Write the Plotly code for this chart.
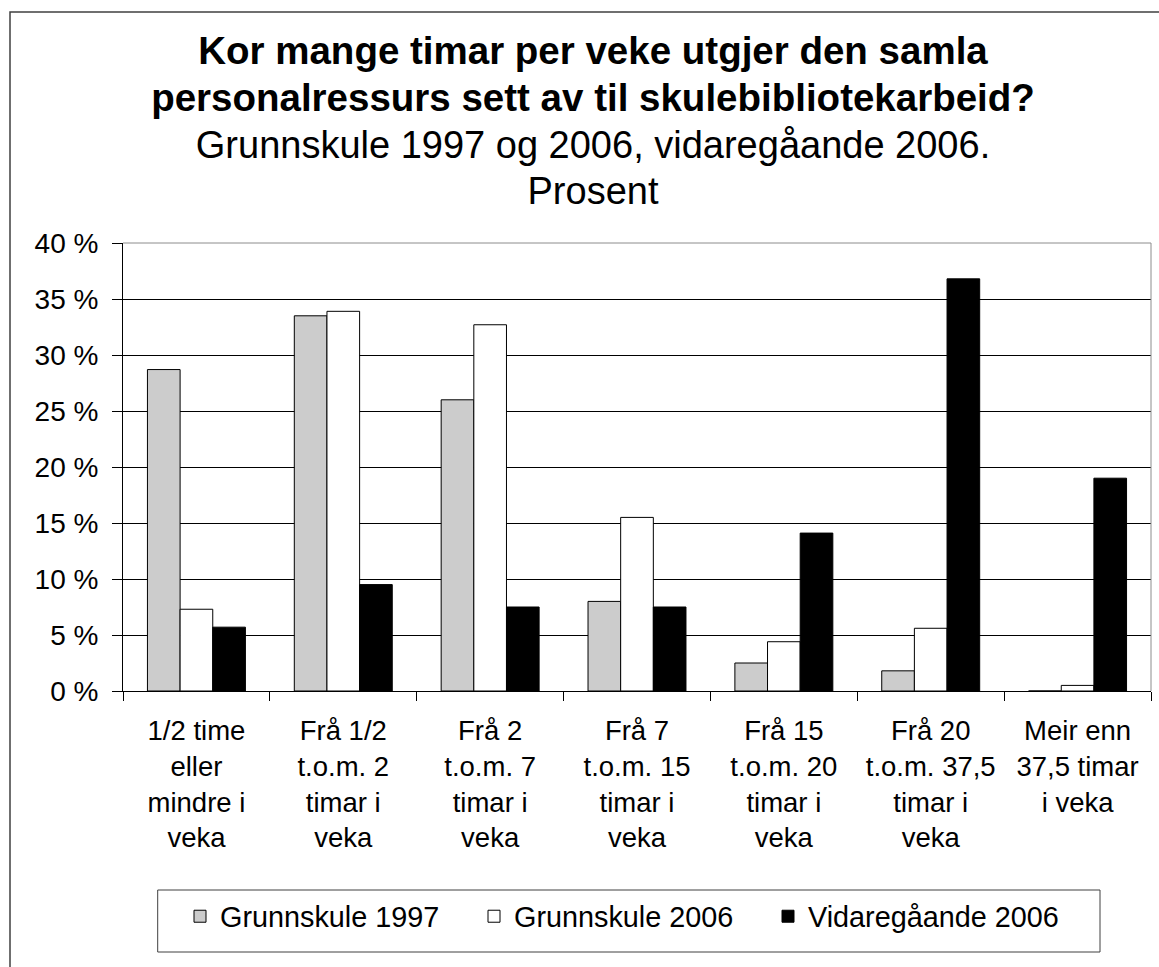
import plotly.graph_objects as go

categories = [
    "1/2 time<br>eller<br>mindre i<br>veka",
    "Frå 1/2<br>t.o.m. 2<br>timar i<br>veka",
    "Frå 2<br>t.o.m. 7<br>timar i<br>veka",
    "Frå 7<br>t.o.m. 15<br>timar i<br>veka",
    "Frå 15<br>t.o.m. 20<br>timar i<br>veka",
    "Frå 20<br>t.o.m. 37,5<br>timar i<br>veka",
    "Meir enn<br>37,5 timar<br>i veka",
]
grunnskule_1997 = [28.7, 33.5, 26.0, 8.0, 2.5, 1.8, 0.0]
grunnskule_2006 = [7.3, 33.9, 32.7, 15.5, 4.4, 5.6, 0.5]
vidaregaande_2006 = [5.7, 9.5, 7.5, 7.5, 14.1, 36.8, 19.0]
series_names = ["Grunnskule 1997", "Grunnskule 2006", "Vidaregåande 2006"]
series_colors = ["#cccccc", "#ffffff", "#000000"]
y_ticks = [0, 5, 10, 15, 20, 25, 30, 35, 40]
y_ticktext = [f"{v} %" for v in y_ticks]

title_text = (
    "<span style='font-size:38.5px'><b>Kor mange timar per veke utgjer den samla</b></span><br>"
    "<span style='font-size:38.5px'><b>personalressurs sett av til skulebibliotekarbeid?</b></span><br>"
    "<span style='font-size:38px'>Grunnskule 1997 og 2006, vidaregåande 2006.</span><br>"
    "<span style='font-size:38px'>Prosent</span>"
)

FONT = "Liberation Sans, Arial, sans-serif"
W, H = 1159, 967
ML, MR, MT, MB = 123, 8, 243, 276
PW = W - ML - MR
PH = H - MT - MB


def px_x(px):
    return (px - ML) / PW


def px_y(py):
    return (H - MB - py) / PH


fig = go.Figure()
for name, vals, col in zip(series_names, [grunnskule_1997, grunnskule_2006, vidaregaande_2006], series_colors):
    fig.add_trace(go.Bar(
        x=categories, y=vals, name=name,
        marker=dict(color=col, line=dict(color="#000000", width=1)),
    ))

fig.update_layout(
    width=W, height=H,
    margin=dict(l=ML, r=MR, t=MT, b=MB, pad=0),
    paper_bgcolor="white", plot_bgcolor="white",
    font=dict(family=FONT, color="black", size=28),
    barmode="group", bargap=0.333, bargroupgap=0,
    title=dict(
        text=title_text,
        font=dict(family=FONT, size=36, color="black"),
        x=593 / W, xanchor="center", xref="container",
        y=1 - 64 / H, yanchor="top", yref="container",
    ),
    xaxis=dict(
        type="category",
        showline=True, linecolor="black", linewidth=1,
        ticks="outside", ticklen=9, tickcolor="black", tickson="boundaries",
        tickfont=dict(family=FONT, size=27.5, color="black"),
        showgrid=False, ticklabelstandoff=15,
    ),
    yaxis=dict(
        range=[0, 40], tickvals=y_ticks, ticktext=y_ticktext,
        showline=True, linecolor="black", linewidth=1,
        ticks="outside", ticklen=10, tickcolor="black",
        tickfont=dict(family=FONT, size=28, color="black"),
        showgrid=True, gridcolor="#000000", gridwidth=1,
        zeroline=False, ticklabelstandoff=8,
    ),
    legend=dict(
        orientation="h",
        x=px_x(180), xanchor="left",
        y=px_y(891), yanchor="top",
        borderwidth=0, bgcolor="rgba(0,0,0,0)",
        font=dict(family=FONT, size=28.8, color="black"),
        entrywidth=249, entrywidthmode="pixels",
        traceorder="normal",
    ),
    shapes=[
        # plot area border (top/right)
        dict(type="path", xref="paper", yref="paper",
             path="M 0,1 L 1,1 L 1,0", line=dict(color="#8c8c8c", width=1), layer="above"),
        # outer chart border
        dict(type="path", xref="paper", yref="paper",
             path=f"M 1.3,{px_y(12)} L {px_x(10)},{px_y(12)} L {px_x(10)},-1.2",
             line=dict(color="#404040", width=1.5), layer="above"),
        # legend frame
        dict(type="rect", xref="paper", yref="paper",
             x0=px_x(157.7), x1=px_x(1100), y0=px_y(952), y1=px_y(890),
             line=dict(color="#404040", width=1), layer="below"),
    ],
)

fig.write_html(
    "out.html",
    config={"displayModeBar": False},
    post_script="document.body.style.margin='0';document.body.style.overflow='hidden';",
)
